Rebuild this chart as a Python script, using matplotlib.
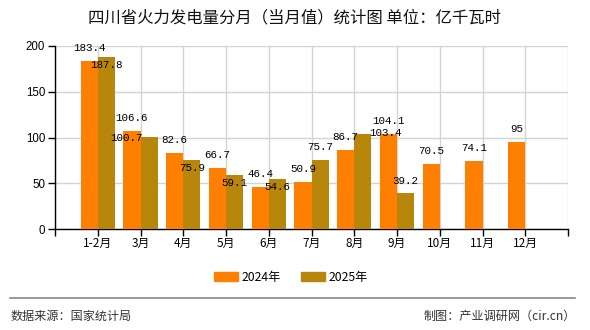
import numpy as np
import matplotlib
matplotlib.use("Agg")
import matplotlib.pyplot as plt
from matplotlib.patches import Patch

plt.rcParams['font.family'] = ['Noto Sans CJK SC', 'DejaVu Sans']

months = ['1-2月', '3月', '4月', '5月', '6月', '7月', '8月', '9月', '10月', '11月', '12月']
v2024 = [183.4, 106.6, 82.6, 66.7, 46.4, 50.9, 86.7, 104.1, 70.5, 74.1, 95]
v2025 = [187.8, 100.7, 75.9, 59.1, 54.6, 75.7, 103.4, 39.2]
yticks = [0, 50, 100, 150, 200]

# label nudges for 2025 (pixels), the source chart shuffles them to avoid overlaps
nudge2025 = [(0, -8), (-23, -1), (0, -8), (0, -8), (0, -8), (0, 13), (23, 1), (0, 12)]

c24 = '#FF8000'
c25 = '#B8860B'

fig = plt.figure(figsize=(5.9, 3.3), dpi=100)
ax = fig.add_axes([55/590, 1-229/330, (568-55)/590, (229-46)/330])

x = np.arange(len(months))
w = 0.4
ax.bar(x[:len(v2024)] - w/2, v2024, w, color=c24, zorder=3)
ax.bar(x[:len(v2025)] + w/2, v2025, w, color=c25, zorder=3)

num_font = dict(family='Liberation Mono', fontsize=7.8, color='black')
for i, v in enumerate(v2024):
	ax.annotate('%g' % v, (x[i] - w/2, v), xytext=(0, 13*0.72), textcoords='offset points',
				ha='center', va='center', zorder=5, **num_font)
for i, v in enumerate(v2025):
	dx, dy = nudge2025[i]
	ax.annotate('%g' % v, (x[i] + w/2, v), xytext=(dx*0.72, dy*0.72), textcoords='offset points',
				ha='center', va='center', zorder=5, **num_font)

ax.set_xlim(-1, 11)
ax.set_ylim(0, 200)
ax.set_xticks(np.arange(-1, 12))
ax.set_xticklabels([''] + months + [''], fontsize=8.5)
ax.set_yticks(yticks)
ax.set_yticklabels([str(t) for t in yticks], family='Liberation Sans', fontsize=8.3)
ax.grid(True, color='#d3d3d3', linewidth=1, zorder=0)
ax.tick_params(axis='both', direction='out', length=5, width=1, color='black', pad=2)
ax.tick_params(axis='x', pad=1)
for s in ['top', 'right']:
	ax.spines[s].set_visible(False)
for s in ['left', 'bottom']:
	ax.spines[s].set_color('black')
	ax.spines[s].set_linewidth(1)

fig.text(0.5, 1-18/330, '四川省火力发电量分月（当月值）统计图 单位：亿千瓦时',
		 ha='center', va='center', fontsize=11.8, color='#111111')

handles = [Patch(color=c24, label='2024年'), Patch(color=c25, label='2025年')]
fig.legend(handles=handles, loc='center', bbox_to_anchor=(0.493, 1-277/330), ncol=2,
		   frameon=False, fontsize=8.8, handlelength=2.0, handleheight=0.8,
		   columnspacing=1.6, handletextpad=0.3)

fig.add_artist(plt.Line2D([10/590, 575/590], [1-298/330, 1-298/330], color='#888888', linewidth=1.2))
fig.text(11/590, 1-316/330, '数据来源：国家统计局', ha='left', va='center', fontsize=8.7, color='#333333')
fig.text(576/590, 1-316/330, '制图：产业调研网（cir.cn）', ha='right', va='center', fontsize=8.7, color='#333333')

fig.savefig('out.png', dpi=100)
